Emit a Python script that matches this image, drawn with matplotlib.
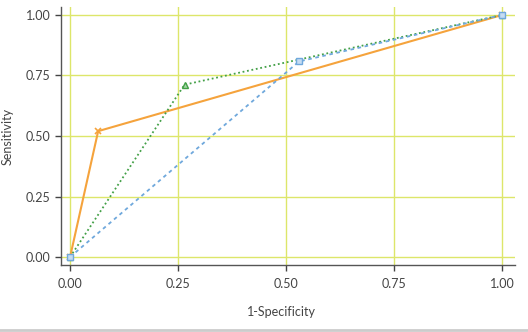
import matplotlib
matplotlib.use("Agg")
import matplotlib.pyplot as plt
from matplotlib.lines import Line2D

plt.rcParams['font.family'] = ['Lato', 'DejaVu Sans']

fpr_a = [0.0, 0.065, 1.0]
tpr_a = [0.0, 0.52, 1.0]
fpr_b = [0.0, 0.265, 1.0]
tpr_b = [0.0, 0.712, 1.0]
fpr_c = [0.0, 0.53, 1.0]
tpr_c = [0.0, 0.808, 1.0]
ticks = [0.0, 0.25, 0.5, 0.75, 1.0]
tick_labels = ["0.00", "0.25", "0.50", "0.75", "1.00"]

fig = plt.figure(figsize=(5.28, 3.32), dpi=100)
ax = fig.add_axes([61/528, 67/332, (515-61)/528, (265-7)/332])

ax.plot(fpr_a, tpr_a, color='#f5a33c', lw=1.5, ls='-', marker='x', ms=5, mew=1.2, zorder=3)
ax.plot(fpr_b, tpr_b, color='#43a047', lw=1.3, ls=(0, (1, 1.5)), marker='^', ms=5,
        mfc='#a5d6a7', mec='#43a047', mew=1, zorder=4)
ax.plot(fpr_c, tpr_c, color='#6fa8dc', lw=1.3, ls=(0, (2, 2)), marker='s', ms=5,
        mfc='#c6dcf2', mec='#6fa8dc', mew=1, zorder=5)

ax.set_xlim(-0.021, 1.03)
ax.set_ylim(-0.033, 1.033)
ax.set_xticks(ticks)
ax.set_xticklabels(tick_labels)
ax.set_yticks(ticks)
ax.set_yticklabels(tick_labels)
ax.grid(True, color='#dde66a', lw=1)
ax.set_axisbelow(True)
for s in ['top', 'right']:
    ax.spines[s].set_visible(False)
for s in ['left', 'bottom']:
    ax.spines[s].set_color('#555555')
    ax.spines[s].set_linewidth(1)
ax.tick_params(colors='#444444', labelsize=9, length=4, width=1, direction='out')
ax.tick_params(axis='x', pad=5)
ax.set_xlabel('1-Specificity', fontsize=9, color='#444444')
ax.set_ylabel('Sensitivity', fontsize=9, color='#444444')
ax.xaxis.set_label_coords(0.485, -0.16)
ax.yaxis.set_label_coords(-0.105, 0.5)

fig.add_artist(Line2D([0, 1], [0.006, 0.006], transform=fig.transFigure, color='#cccccc', lw=2))

fig.savefig('out.png', dpi=100)
